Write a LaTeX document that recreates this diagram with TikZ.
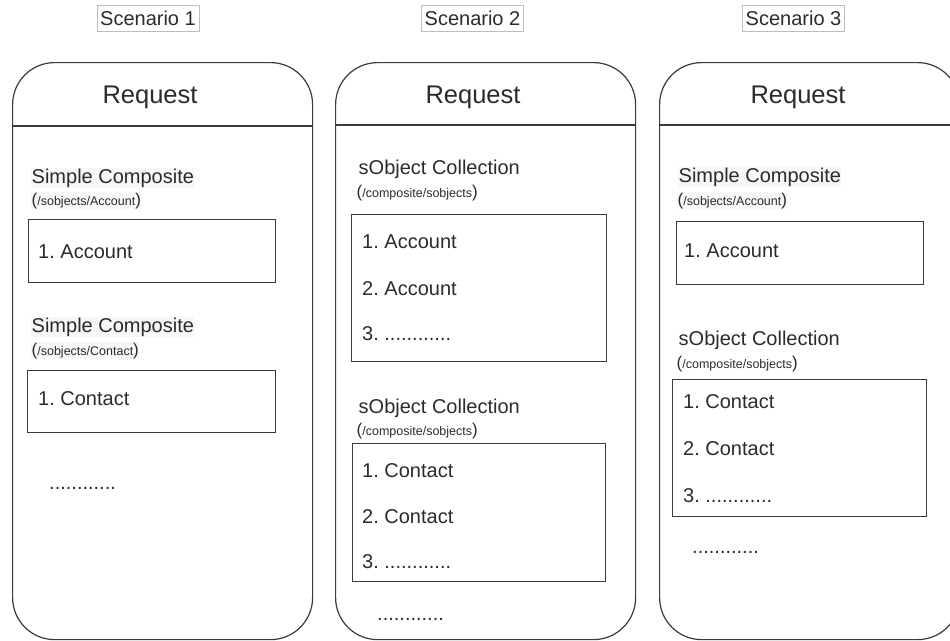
\documentclass[tikz,border=0pt]{standalone}
\usepackage{fontspec}
\setmainfont{Liberation Sans}
\frenchspacing
\definecolor{ink}{HTML}{2B2B2B}
\definecolor{edge}{HTML}{3A3A3A}
\definecolor{tagedge}{HTML}{BDBDBD}
\definecolor{faint}{HTML}{F5F7F9}
\newcommand{\apipath}[1]{{\fontsize{17}{17}\selectfont(}{\fontsize{12.5}{13}\selectfont #1}{\fontsize{17}{17}\selectfont)}}
\begin{document}
\begin{tikzpicture}[x=1pt,y=-1pt,
  lane/.style={draw=edge,line width=1.2pt,rounded corners=42pt,anchor=north west,
    minimum width=300pt,minimum height=577pt,inner sep=0pt},
  divider/.style={draw=edge,line width=1.4pt},
  tag/.style={draw=tagedge,line width=0.8pt,inner sep=0pt,minimum width=102pt,
    minimum height=26pt,font=\fontsize{20}{20}\selectfont,text=ink},
  head/.style={font=\fontsize{25.5}{26}\selectfont,text=ink,anchor=base},
  group/.style={anchor=base west,font=\fontsize{20}{20}\selectfont,text=ink,inner sep=0.5pt},
  simple/.style={group,fill=faint},
  api/.style={anchor=base west,text=ink,inner sep=0.5pt},
  listbox/.style={draw=edge,line width=1.1pt,anchor=north west,inner sep=0pt},
  entry/.style={anchor=base west,font=\fontsize{20}{20}\selectfont,text=ink,inner sep=0pt}
]
\useasboundingbox (0,0) rectangle (950,640);
\clip (0,0) rectangle (950,640);

% scenario captions
\node[tag] (s1) at (148,18) {Scenario 1};
\node[tag] (s2) at (472.5,18) {Scenario 2};
\node[tag] (s3) at (793.5,18) {Scenario 3};

% request lanes with their header dividers
\node[lane] (lane1) at (12,62) {};
\node[lane] (lane2) at (335,62) {};
\node[lane] (lane3) at (659,62) {};
\draw[divider] (12,126) -- (312,126);
\draw[divider] (335,125) -- (635,125);
\draw[divider] (659,125) -- (959,125);
\node[head] (r1) at (150,103) {Request};
\node[head] (r2) at (473,103) {Request};
\node[head] (r3) at (798,103) {Request};

% scenario 1: one simple composite call per record
\node[simple] (g11) at (31,183) {Simple Composite};
\node[api,fill=faint] (p11) at (31,205) {\apipath{/sobjects/Account}};
\node[listbox,minimum width=247pt,minimum height=63pt] (b11) at (28,219) {};
\node[entry] (e111) at (38,258) {1. Account};
\node[simple] (g12) at (31,332) {Simple Composite};
\node[api,fill=faint] (p12) at (31,355) {\apipath{/sobjects/Contact}};
\node[listbox,minimum width=248pt,minimum height=62pt] (b12) at (27,370) {};
\node[entry] (e121) at (38,405) {1. Contact};
\node[entry] (m1) at (49,489) {............};

% scenario 2: sObject collections per object type
\node[group] (g21) at (358,174) {sObject Collection};
\node[api] (p21) at (356,197) {\apipath{/composite/sobjects}};
\node[listbox,minimum width=255pt,minimum height=147pt] (b21) at (351,214) {};
\node[entry] (e211) at (362,248) {1. Account};
\node[entry] (e212) at (362,295) {2. Account};
\node[entry] (e213) at (362,340) {3. ............};
\node[group] (g22) at (358,413) {sObject Collection};
\node[api] (p22) at (356,435) {\apipath{/composite/sobjects}};
\node[listbox,minimum width=253pt,minimum height=138pt] (b22) at (352,443) {};
\node[entry] (e221) at (362,477) {1. Contact};
\node[entry] (e222) at (362,523) {2. Contact};
\node[entry] (e223) at (362,568) {3. ............};
\node[entry] (m2) at (377,620) {............};

% scenario 3: mixed simple composite and collection
\node[simple] (g31) at (678,182) {Simple Composite};
\node[api,fill=faint] (p31) at (677,205) {\apipath{/sobjects/Account}};
\node[listbox,minimum width=247pt,minimum height=63pt] (b31) at (676,221) {};
\node[entry] (e311) at (684,257) {1. Account};
\node[group] (g32) at (678,345) {sObject Collection};
\node[api] (p32) at (676,368) {\apipath{/composite/sobjects}};
\node[listbox,minimum width=254pt,minimum height=137pt] (b32) at (672,379) {};
\node[entry] (e321) at (683,408) {1. Contact};
\node[entry] (e322) at (683,455) {2. Contact};
\node[entry] (e323) at (683,502) {3. ............};
\node[entry] (m3) at (692,553) {............};
\end{tikzpicture}
\end{document}
